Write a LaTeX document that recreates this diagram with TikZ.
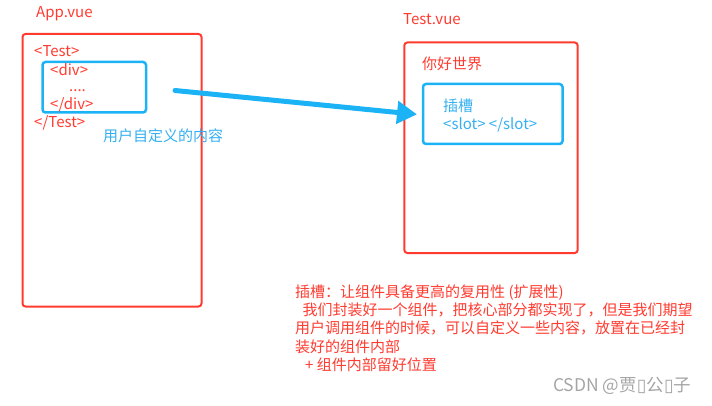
\documentclass[tikz,border=0pt]{standalone}
\usepackage{fontspec}
\setmainfont{Noto Sans CJK SC}
\newfontfamily\symfont{DejaVu Sans}
\usetikzlibrary{arrows.meta}
\definecolor{vred}{RGB}{255,59,48}
\definecolor{vblue}{RGB}{28,178,246}
\definecolor{tblue}{RGB}{52,176,240}
\definecolor{wgray}{RGB}{165,165,165}
\begin{document}
\begin{tikzpicture}[x=1pt,y=-1pt,
  lbl/.style={anchor=west,inner sep=0pt,text=vred,font=\fontsize{15}{18}\selectfont},
  redbox/.style={draw=vred,line width=2pt,rounded corners=3pt},
  bluebox/.style={draw=vblue,line width=2.5pt,rounded corners=3pt},
  bigarrow/.style={draw=vblue,line width=5pt,line cap=round,-{Triangle[length=20pt,width=22pt]}}]
\path[use as bounding box] (0,0) rectangle (712,406);
% App.vue
\node[lbl] (applbl) at (36,14) {App.vue};
\draw[redbox] (22.5,34) rectangle (201.5,306.5);
\draw[bluebox] (42.5,62) rectangle (146,112.5);
\node[lbl] (t1) at (34,51.5) {<Test>};
\node[lbl] (d1) at (50,70) {<div>};
\node[lbl,anchor=base west] (dots) at (69,92) {....};
\node[lbl] (d2) at (50,105) {</div>};
\node[lbl] (t2) at (34,122.5) {</Test>};
\node[lbl,text=tblue] (custom) at (103,136) {用户自定义的内容};
% Test.vue
\node[lbl] (testlbl) at (403,19.5) {Test.vue};
\draw[redbox] (404.3,42.5) rectangle (577.7,253);
\node[lbl] (hello) at (422,63.5) {你好世界};
\draw[bluebox] (423,84) rectangle (562.5,144);
\coordinate (slotw) at (423,115);
\node[lbl,text=tblue] (slot1) at (443,106) {插槽};
\node[lbl,text=tblue] (slot2) at (443,124.5) {<slot> </slot>};
% arrow
\coordinate (astart) at (175,90.5);
\draw[bigarrow,shorten >=6pt] (astart) -- (slotw);
% notes
\node[anchor=north west,inner sep=0pt,text=vred,font=\fontsize{15}{18.25}\selectfont,align=left] (notes) at (295,284.5) {插槽：让组件具备更高的复用性 (扩展性)\\
\hspace*{7.5pt}我们封装好一个组件，把核心部分都实现了，但是我们期望\\
用户调用组件的时候，可以自定义一些内容，放置在已经封\\
装好的组件内部\\
\hspace*{10pt}+ 组件内部留好位置};
\node[anchor=west,inner sep=0pt,text=wgray,font=\fontsize{17.5}{20}\selectfont] (wm) at (553,386) {CSDN @贾{\symfont ▯}公{\symfont ▯}子};
\end{tikzpicture}
\end{document}
